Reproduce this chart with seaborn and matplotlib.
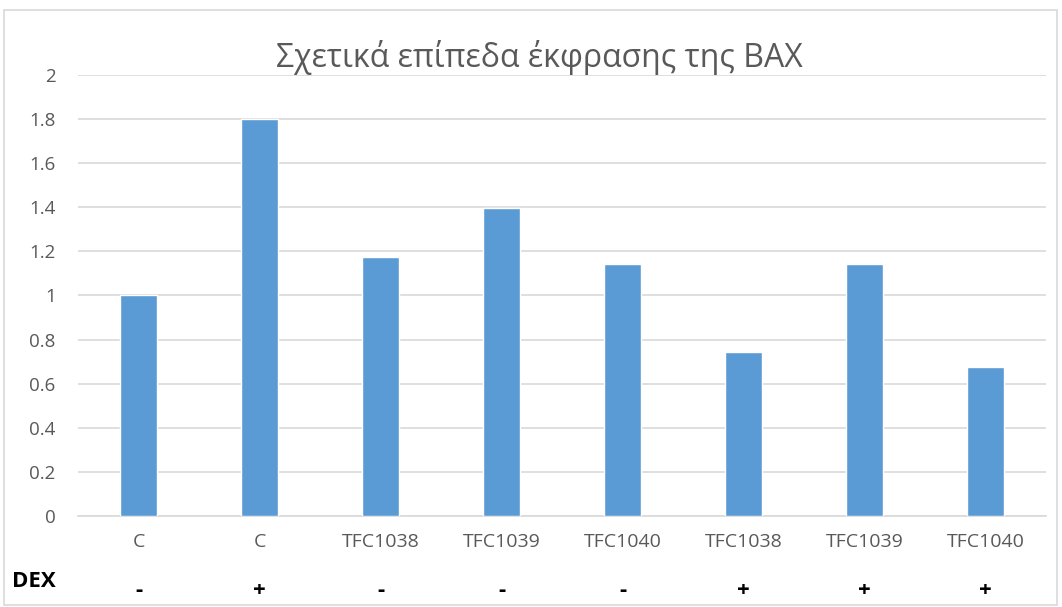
import numpy as np
import pandas as pd
import matplotlib
matplotlib.use("Agg")
import matplotlib.pyplot as plt
import seaborn as sns

# Values
samples = ['C', 'C', 'TFC1038', 'TFC1039', 'TFC1040', 'TFC1038', 'TFC1039', 'TFC1040']
dex = ['-', '+', '-', '-', '-', '+', '+', '+']
bax_levels = [1.0, 1.8, 1.175, 1.397, 1.143, 0.745, 1.143, 0.677]
yticks = [0, 0.2, 0.4, 0.6, 0.8, 1, 1.2, 1.4, 1.6, 1.8, 2]
ytick_labels = ['0', '0.2', '0.4', '0.6', '0.8', '1', '1.2', '1.4', '1.6', '1.8', '2']

data = pd.DataFrame({
    'key': [f'{s} {d} {i}' for i, (s, d) in enumerate(zip(samples, dex))],
    'sample': samples,
    'dex': dex,
    'level': bax_levels,
})

sns.set_style('white')
plt.rcParams['font.family'] = ['Open Sans', 'DejaVu Sans']

fig = plt.figure(figsize=(10.62, 6.07), dpi=100)
ax = fig.add_axes([0.0734, 0.150, 0.9116, 0.7264])

sns.barplot(data=data, x='key', y='level', color='#5B9BD5', saturation=1,
            width=0.31, ax=ax, zorder=3)

ax.set_ylim(0, 2)
ax.set_xlim(-0.5, len(samples) - 0.5)
ax.set_yticks(yticks)
ax.set_yticklabels(ytick_labels)
ax.set_xticks(range(len(samples)))
ax.set_xticklabels(samples)
ax.tick_params(axis='both', length=0, colors='#595959')
ax.tick_params(axis='x', pad=12, labelsize=14)
ax.tick_params(axis='y', pad=16, labelsize=13.5)

ax.yaxis.grid(True, color='#d9d9d9', linewidth=1.2, zorder=0)
ax.set_axisbelow(True)
for side in ['top', 'right', 'left']:
    ax.spines[side].set_visible(False)
ax.spines['bottom'].set_color('#d9d9d9')
ax.spines['bottom'].set_linewidth(1.2)
ax.set_xlabel('')
ax.set_ylabel('')

# DEX row below the sample names
trans = ax.get_xaxis_transform()
for i, d in enumerate(dex):
    ax.text(i, -0.168, d, transform=trans, ha='center', va='center',
            fontsize=16, fontweight='bold', color='black')
fig.text(0.011, 0.042, 'DEX', ha='left', va='center', fontsize=16,
         fontweight='bold', color='black')

fig.text(0.508, 0.905, 'Σχετικά επίπεδα έκφρασης της BAX', ha='center',
         va='center', fontsize=23, color='#595959')

# chart area border
border = plt.Rectangle((0.004, 0.003), 0.991, 0.981, transform=fig.transFigure,
                       fill=False, edgecolor='#d9d9d9', linewidth=1.2)
fig.patches.append(border)

fig.savefig('out.png', dpi=100)
